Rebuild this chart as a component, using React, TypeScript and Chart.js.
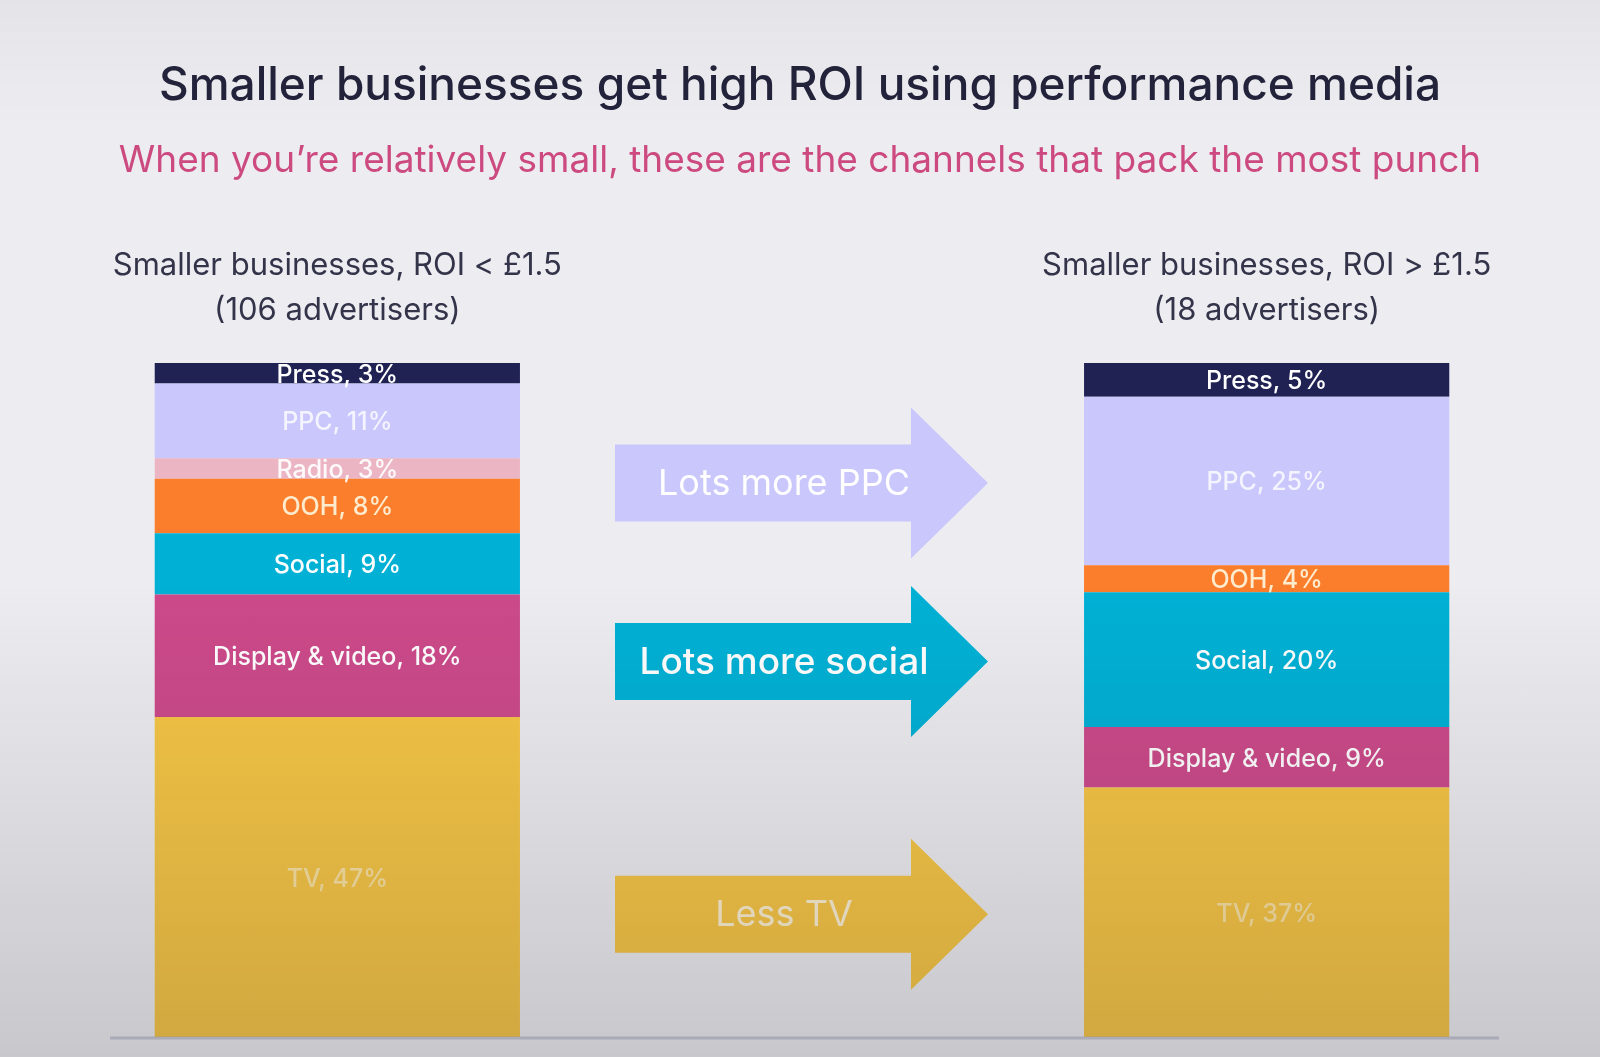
import React, { useEffect, useRef } from 'react';
import { Chart, registerables } from 'chart.js';

Chart.register(...registerables);

const channels = ['Press', 'PPC', 'Radio', 'OOH', 'Social', 'Display & video', 'TV'];
const lowRoiShare: (number | null)[] = [3, 11, 3, 8, 9, 18, 47];
const highRoiShare: (number | null)[] = [5, 25, null, 4, 20, 9, 37];
const groups = ['Smaller businesses, ROI < £1.5', '', 'Smaller businesses, ROI > £1.5'];
const groupCounts = ['(106 advertisers)', '', '(18 advertisers)'];
const arrowTexts = ['Lots more PPC', 'Lots more social', 'Less TV'];
const arrowChannels = ['PPC', 'Social', 'TV'];
const titleText = 'Smaller businesses get high ROI using performance media';
const subtitleText = 'When you’re relatively small, these are the channels that pack the most punch';

const colors: Record<string, string> = {
  Press: '#1f2252',
  PPC: '#c9c7fb',
  Radio: '#ebb5c4',
  OOH: '#fb7e2c',
  Social: '#00b1d5',
  'Display & video': '#cd4a8a',
  TV: '#f7c644',
};
const textColors: Record<string, string> = {
  Press: '#ffffff',
  PPC: 'rgba(255,255,255,0.8)',
  Radio: 'rgba(255,255,255,0.92)',
  OOH: '#ffeccf',
  Social: '#ffffff',
  'Display & video': '#ffffff',
  TV: 'rgba(255,255,255,0.5)',
};

const FONT = "Inter, 'Noto Sans', sans-serif";

const sum = (a: (number | null)[]) => a.reduce((s: number, v) => s + (v ?? 0), 0);

export default function App() {
  const ref = useRef<HTMLCanvasElement | null>(null);

  useEffect(() => {
    if (!ref.current) return;
    const datasets: any[] = [];
    for (let i = channels.length - 1; i >= 0; i--) {
      datasets.push({
        label: channels[i],
        data: [lowRoiShare[i], null, null],
        yAxisID: 'yL',
        backgroundColor: colors[channels[i]],
        borderWidth: 0,
      });
    }
    for (let i = channels.length - 1; i >= 0; i--) {
      datasets.push({
        label: channels[i],
        data: [null, null, highRoiShare[i]],
        yAxisID: 'yR',
        backgroundColor: colors[channels[i]],
        borderWidth: 0,
      });
    }

    const decor = {
      id: 'decor',
      afterDatasetsDraw(chart: any) {
        const ctx = chart.ctx;
        const area = chart.chartArea;
        const xs = chart.scales.x;
        ctx.save();
        // baseline
        ctx.strokeStyle = 'rgba(170,168,190,0.55)';
        ctx.lineWidth = 3;
        ctx.beginPath();
        ctx.moveTo(area.left + 5, area.bottom + 1);
        ctx.lineTo(area.right, area.bottom + 1);
        ctx.stroke();

        // segment labels
        ctx.textAlign = 'center';
        ctx.textBaseline = 'middle';
        ctx.font = `500 25px ${FONT}`;
        chart.data.datasets.forEach((ds: any, di: number) => {
          const meta = chart.getDatasetMeta(di);
          meta.data.forEach((el: any, idx: number) => {
            const v = ds.data[idx];
            if (v == null) return;
            ctx.fillStyle = textColors[ds.label];
            ctx.fillText(`${ds.label}, ${v}%`, el.x, (el.y + el.base) / 2 + 2);
          });
        });

        // arrows
        const cx = xs.getPixelForValue(1);
        arrowTexts.forEach((txt, ai) => {
          const ch = arrowChannels[ai];
          const di = chart.data.datasets.findIndex((d: any) => d.label === ch && d.yAxisID === 'yR');
          const el = chart.getDatasetMeta(di).data[2];
          const cy = (el.y + el.base) / 2 + 2;
          const left = cx - 187;
          const headBase = cx + 109;
          const tip = cx + 186;
          ctx.fillStyle = colors[ch];
          ctx.beginPath();
          ctx.moveTo(left, cy - 38.5);
          ctx.lineTo(headBase, cy - 38.5);
          ctx.lineTo(headBase, cy - 75.5);
          ctx.lineTo(tip, cy);
          ctx.lineTo(headBase, cy + 75.5);
          ctx.lineTo(headBase, cy + 38.5);
          ctx.lineTo(left, cy + 38.5);
          ctx.closePath();
          ctx.fill();
          ctx.fillStyle = ch === 'TV' ? 'rgba(255,255,255,0.75)' : '#ffffff';
          ctx.font = `${ch === 'Social' ? 500 : 400} ${ch === 'Social' ? 37 : 36}px ${FONT}`;
          ctx.fillText(txt, cx - 18, cy + 1);
        });

        // titles
        ctx.fillStyle = '#23233b';
        ctx.font = `500 46px ${FONT}`;
        ctx.fillText(titleText, 800, 86);
        ctx.fillStyle = '#cc4a80';
        ctx.font = `400 37px ${FONT}`;
        ctx.fillText(subtitleText, 800, 161);

        // group headings
        ctx.fillStyle = '#33334a';
        ctx.font = `400 31px ${FONT}`;
        groups.forEach((g, gi) => {
          if (!g) return;
          const x = xs.getPixelForValue(gi);
          ctx.fillText(g, x, area.top - 97);
          ctx.fillText(groupCounts[gi], x, area.top - 52);
        });
        ctx.restore();
      },
    };

    const chart = new Chart(ref.current, {
      type: 'bar',
      data: { labels: groups, datasets },
      options: {
        animation: false,
        responsive: false,
        devicePixelRatio: 1,
        layout: { padding: { left: 105, right: 101, top: 363, bottom: 20 } },
        datasets: { bar: { barPercentage: 0.786, categoryPercentage: 1 } },
        plugins: { legend: { display: false }, tooltip: { enabled: false }, title: { display: false } },
        scales: {
          x: { stacked: true, display: false },
          yL: { stacked: true, display: false, min: 0, max: sum(lowRoiShare) },
          yR: { stacked: true, display: false, min: 0, max: sum(highRoiShare) },
        },
      } as any,
      plugins: [decor],
    });
    return () => chart.destroy();
  }, []);

  return (
    <div style={{ position: 'fixed', left: 0, top: 0, width: 1600, height: 1057, background: '#ededf1', overflow: 'hidden' }}>
      <canvas ref={ref} width={1600} height={1057} style={{ display: 'block' }} />
      <div
        style={{
          position: 'absolute',
          inset: 0,
          pointerEvents: 'none',
          background:
            'linear-gradient(to bottom, rgba(30,30,40,0.04) 0%, rgba(0,0,0,0) 12%, rgba(0,0,0,0) 55%, rgba(40,40,50,0.19) 100%)',
        }}
      />
    </div>
  );
}
